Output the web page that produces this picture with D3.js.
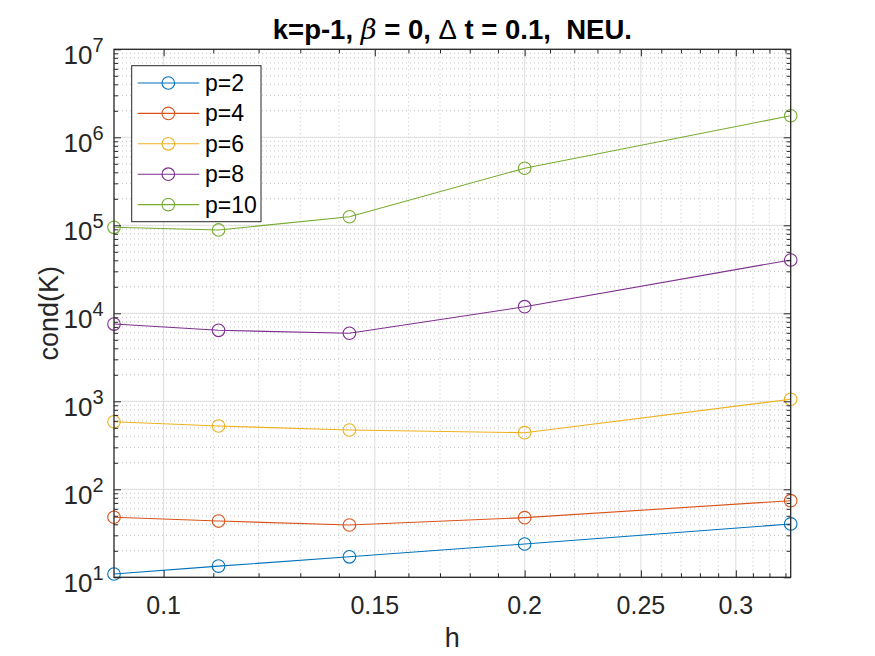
<!DOCTYPE html>
<html>
<head>
<meta charset="utf-8">
<script src="https://cdn.jsdelivr.net/npm/d3@7"></script>
<style>
  body { margin: 0; background: #fff; }
  text { font-family: Arial, "Liberation Sans", Helvetica, sans-serif; fill: #262626; }
</style>
</head>
<body>
<svg id="chart" width="875" height="656"></svg>
<script>
// data
const hValues = [1 / 11, 1 / 9, 1 / 7, 1 / 5, 1 / 3];
const seriesNames = ["p=2", "p=4", "p=6", "p=8", "p=10"];
const condP2 = [10.9, 13.4, 17.1, 23.9, 40.4];
const condP4 = [48.1, 43.6, 39.3, 47.6, 74.2];
const condP6 = [586, 524, 472, 440, 1055];
const condP8 = [7550, 6410, 5930, 11880, 40360];
const condP10 = [94900, 88500, 125000, 445000, 1758000];
const xTickValues = [0.1, 0.15, 0.2, 0.25, 0.3];
const xTickLabels = ["0.1", "0.15", "0.2", "0.25", "0.3"];
const yExponents = [1, 2, 3, 4, 5, 6, 7];

const allSeries = [condP2, condP4, condP6, condP8, condP10];
const colors = ["#0072BD", "#D95319", "#EDB120", "#7E2F8E", "#77AC30"];

const svg = d3.select("#chart");
const plotLeft = 114, plotRight = 790.7, plotTop = 49.3, plotBottom = 577.3;
const axisColor = "#262626";

const x = d3.scaleLog().domain([1 / 11, 1 / 3]).range([plotLeft, plotRight]);
const y = d3.scaleLog().domain([10, 1e7]).range([plotBottom, plotTop]);

// minor tick positions
const xMinor = d3.range(10, 34).map(d => d / 100)
  .filter(d => d >= 1 / 11 && d <= 1 / 3 && xTickValues.indexOf(d) < 0);
const yMinor = [];
yExponents.slice(0, -1).forEach(e => {
  for (let m = 2; m <= 9; m++) yMinor.push(m * Math.pow(10, e));
});
const yMajor = yExponents.map(e => Math.pow(10, e));

// grid
const grid = svg.append("g");
grid.selectAll(".xminor").data(xMinor).join("line")
  .attr("x1", d => x(d)).attr("x2", d => x(d))
  .attr("y1", plotTop).attr("y2", plotBottom)
  .attr("stroke", "#c4c4c4").attr("stroke-width", 1).attr("stroke-dasharray", "1,3");
grid.selectAll(".yminor").data(yMinor).join("line")
  .attr("y1", d => y(d)).attr("y2", d => y(d))
  .attr("x1", plotLeft).attr("x2", plotRight)
  .attr("stroke", "#c4c4c4").attr("stroke-width", 1).attr("stroke-dasharray", "1,3");
grid.selectAll(".xmajor").data(xTickValues).join("line")
  .attr("x1", d => x(d)).attr("x2", d => x(d))
  .attr("y1", plotTop).attr("y2", plotBottom)
  .attr("stroke", "#dcdcdc").attr("stroke-width", 1);
grid.selectAll(".ymajor").data(yMajor).join("line")
  .attr("y1", d => y(d)).attr("y2", d => y(d))
  .attr("x1", plotLeft).attr("x2", plotRight)
  .attr("stroke", "#dcdcdc").attr("stroke-width", 1);

// series
const line = d3.line().x((d, i) => x(hValues[i])).y(d => y(d));
allSeries.forEach((vals, k) => {
  svg.append("path")
    .datum(vals)
    .attr("d", line)
    .attr("fill", "none")
    .attr("stroke", colors[k])
    .attr("stroke-width", 1.1);
  svg.append("g").selectAll("circle").data(vals).join("circle")
    .attr("cx", (d, i) => x(hValues[i]))
    .attr("cy", d => y(d))
    .attr("r", 6.3)
    .attr("fill", "none")
    .attr("stroke", colors[k])
    .attr("stroke-width", 1.1);
});

// axes: inward ticks on all four sides
const axisB = d3.axisBottom(x).tickValues(xTickValues).tickSize(-7).tickFormat(() => "");
const axisT = d3.axisTop(x).tickValues(xTickValues).tickSize(-7).tickFormat(() => "");
const axisL = d3.axisLeft(y).tickValues(yMajor).tickSize(-7).tickFormat(() => "");
const axisR = d3.axisRight(y).tickValues(yMajor).tickSize(-7).tickFormat(() => "");
const minorB = d3.axisBottom(x).tickValues(xMinor).tickSize(-4).tickFormat(() => "");
const minorT = d3.axisTop(x).tickValues(xMinor).tickSize(-4).tickFormat(() => "");
const minorL = d3.axisLeft(y).tickValues(yMinor).tickSize(-4).tickFormat(() => "");
const minorR = d3.axisRight(y).tickValues(yMinor).tickSize(-4).tickFormat(() => "");

[[axisB, `translate(0,${plotBottom})`], [axisT, `translate(0,${plotTop})`],
 [axisL, `translate(${plotLeft},0)`], [axisR, `translate(${plotRight},0)`],
 [minorB, `translate(0,${plotBottom})`], [minorT, `translate(0,${plotTop})`],
 [minorL, `translate(${plotLeft},0)`], [minorR, `translate(${plotRight},0)`]].forEach(([ax, tr]) => {
  const g = svg.append("g").attr("transform", tr).call(ax);
  g.selectAll("line").attr("stroke", axisColor);
  g.select(".domain").remove();
});

svg.append("rect")
  .attr("x", plotLeft).attr("y", plotTop)
  .attr("width", plotRight - plotLeft).attr("height", plotBottom - plotTop)
  .attr("fill", "none").attr("stroke", axisColor).attr("stroke-width", 1.3);

// tick labels
svg.append("g").selectAll("text").data(xTickValues).join("text")
  .attr("x", d => x(d)).attr("y", 613.5)
  .attr("text-anchor", "middle")
  .style("font-size", "25px")
  .text((d, i) => xTickLabels[i]);

const yLab = svg.append("g").selectAll("text").data(yExponents).join("text")
  .attr("x", 103.5).attr("y", d => y(Math.pow(10, d)) + 14.4)
  .attr("text-anchor", "end")
  .style("font-size", "26px");
yLab.append("tspan").text("10");
yLab.append("tspan").attr("dy", -11.7).style("font-size", "20px").text(d => d);

// labels and title
svg.append("text")
  .attr("x", (plotLeft + plotRight) / 2).attr("y", 646.5)
  .attr("text-anchor", "middle").style("font-size", "27px").text("h");

svg.append("text")
  .attr("transform", `translate(58,${(plotTop + plotBottom) / 2}) rotate(-90)`)
  .attr("text-anchor", "middle").style("font-size", "27px").text("cond(K)");

const title = svg.append("text")
  .attr("x", (plotLeft + plotRight) / 2).attr("y", 39.3)
  .attr("text-anchor", "middle")
  .style("font-size", "27.5px").style("font-weight", "bold")
  .style("fill", "#000");
title.append("tspan").text("k=p-1, ");
title.append("tspan").style("font-style", "italic").style("font-weight", "normal")
  .style("font-family", "'DejaVu Serif', serif").text("β");
title.append("tspan").text(" = 0, ");
title.append("tspan").style("font-weight", "normal").text("Δ");
title.append("tspan").style("white-space", "pre").text(" t = 0.1,  NEU.");

// legend
const legend = svg.append("g");
legend.append("rect")
  .attr("x", 131.7).attr("y", 65.7).attr("width", 129.3).attr("height", 156)
  .attr("fill", "#fff").attr("stroke", axisColor).attr("stroke-width", 1);
const rows = legend.selectAll("g.row").data(seriesNames).join("g")
  .attr("transform", (d, i) => `translate(0,${83 + i * 30.4})`);
rows.append("line")
  .attr("x1", 137.7).attr("x2", 199.3)
  .attr("stroke", (d, i) => colors[i]).attr("stroke-width", 1.1);
rows.append("circle")
  .attr("cx", 168.3).attr("r", 6.3)
  .attr("fill", "none").attr("stroke", (d, i) => colors[i]).attr("stroke-width", 1.1);
rows.append("text")
  .attr("x", 205).attr("y", 8)
  .style("font-size", "23px").style("fill", "#000")
  .text(d => d);
</script>
</body>
</html>
